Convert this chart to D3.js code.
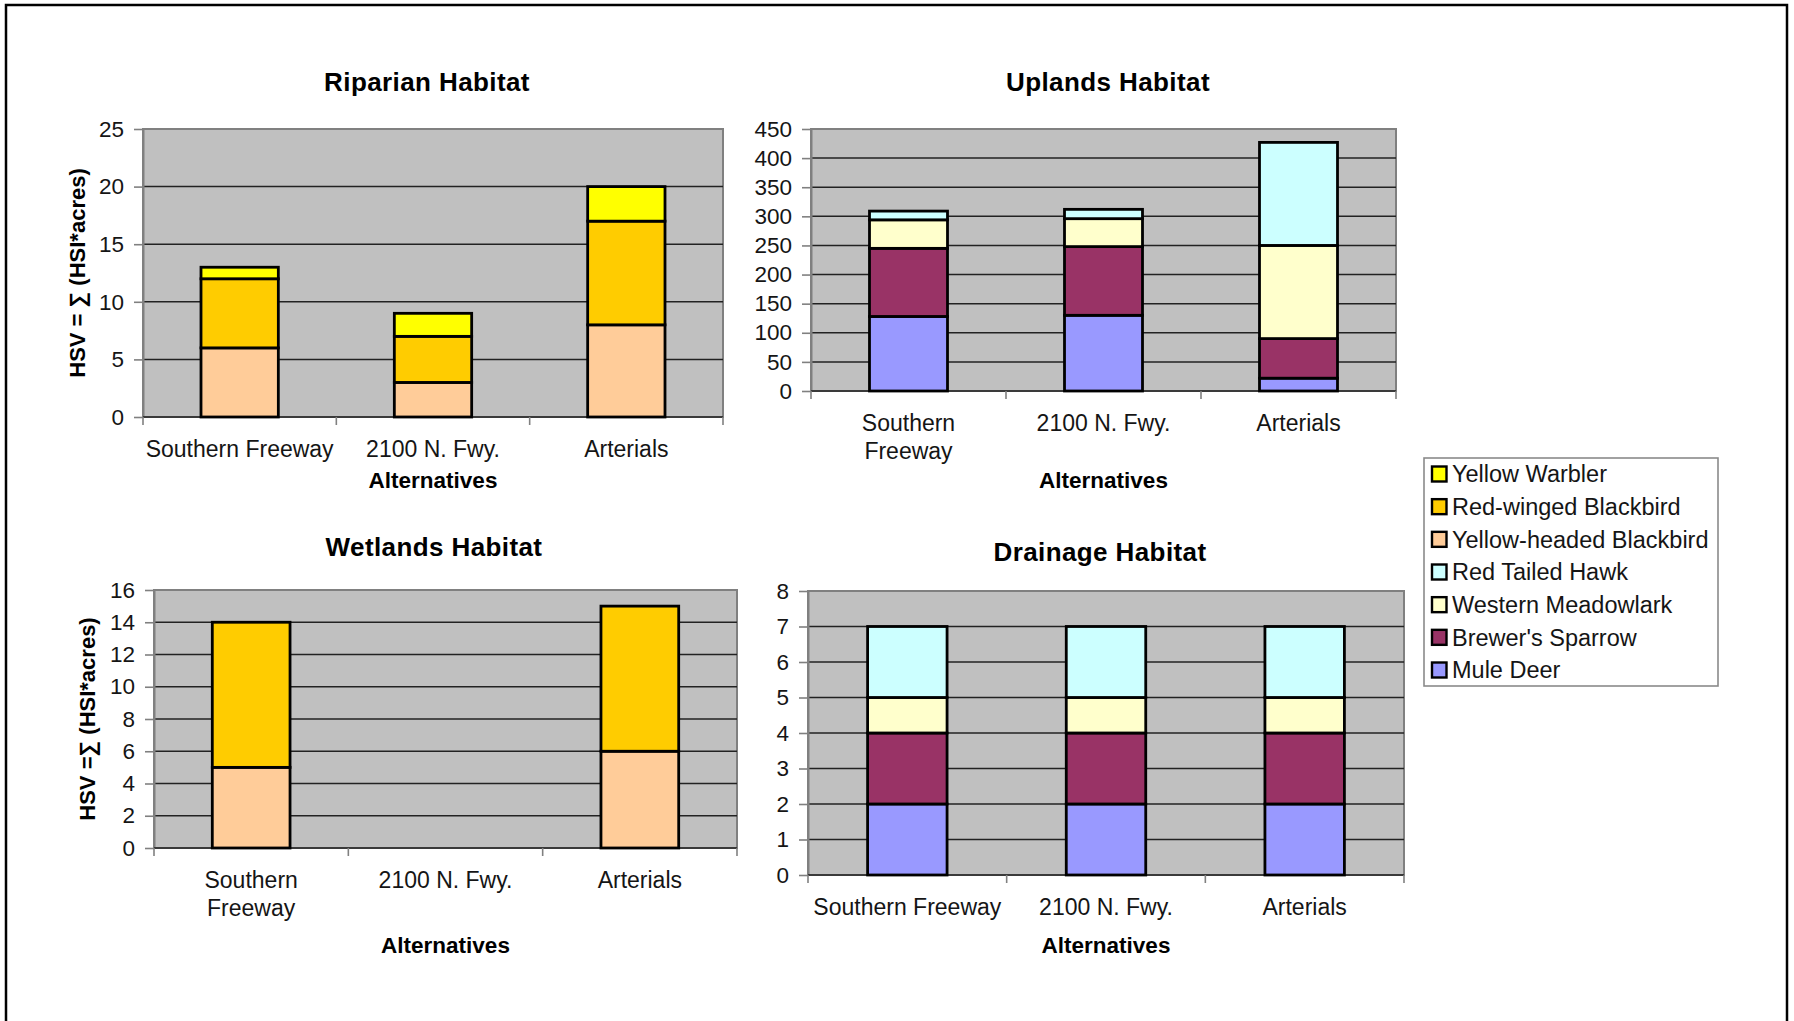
<!DOCTYPE html>
<html>
<head>
<meta charset="utf-8">
<script src="https://cdn.jsdelivr.net/npm/d3@7"></script>
<style>
  html, body { margin: 0; padding: 0; background: #fff; }
  svg { display: block; }
  text { font-family: "Liberation Sans", Arial, Helvetica, sans-serif; }
</style>
</head>
<body>
<svg id="fig" width="1794" height="1021"></svg>
<script>
// ---- data ----
const alternatives = ["Southern Freeway", "2100 N. Fwy.", "Arterials"];

const species = [
  "Yellow Warbler", "Red-winged Blackbird", "Yellow-headed Blackbird",
  "Red Tailed Hawk", "Western Meadowlark", "Brewer's Sparrow", "Mule Deer"
];
const speciesColors = ["#FFFF00", "#FFCC00", "#FFCC99", "#CCFFFF", "#FFFFCC", "#993366", "#9999FF"];

// Riparian habitat, HSV by alternative
const riparianYellowHeaded = [6, 3, 8];
const riparianRedWinged    = [6, 4, 9];
const riparianYellowWarbler = [1, 2, 3];

// Uplands habitat
const uplandsMuleDeer   = [128, 130, 22];
const uplandsBrewers    = [117, 118, 68];
const uplandsMeadowlark = [49, 48, 160];
const uplandsHawk       = [15, 16, 177];

// Wetlands habitat (no wetland value for 2100 N. Fwy.)
const wetlandsYellowHeaded = [5, 0, 6];
const wetlandsRedWinged    = [9, 0, 9];

// Drainage habitat
const drainageMuleDeer   = [2, 2, 2];
const drainageBrewers    = [2, 2, 2];
const drainageMeadowlark = [1, 1, 1];
const drainageHawk       = [2, 2, 2];

// axis tick values
const riparianTicks = [0, 5, 10, 15, 20, 25];
const uplandsTicks  = [0, 50, 100, 150, 200, 250, 300, 350, 400, 450];
const wetlandsTicks = [0, 2, 4, 6, 8, 10, 12, 14, 16];
const drainageTicks = [0, 1, 2, 3, 4, 5, 6, 7, 8];

const xTitle = "Alternatives";

// ---- panels (stack order bottom to top) ----
const panels = [
  {
    title: "Riparian Habitat", ticks: riparianTicks, yTitle: "HSV = \u2211 (HSI*acres)",
    layers: [["Yellow-headed Blackbird", riparianYellowHeaded], ["Red-winged Blackbird", riparianRedWinged], ["Yellow Warbler", riparianYellowWarbler]],
    box: { l: 143, r: 723, t: 129, b: 417 }, titleX: 427, titleY: 82, yTitleX: 77, wrapWidth: Infinity, xTitleY: 480, labelY: 449
  },
  {
    title: "Uplands Habitat", ticks: uplandsTicks, yTitle: null,
    layers: [["Mule Deer", uplandsMuleDeer], ["Brewer's Sparrow", uplandsBrewers], ["Western Meadowlark", uplandsMeadowlark], ["Red Tailed Hawk", uplandsHawk]],
    box: { l: 811, r: 1396, t: 129, b: 391 }, titleX: 1108, titleY: 82, wrapWidth: 150, xTitleY: 480, labelY: 423
  },
  {
    title: "Wetlands Habitat", ticks: wetlandsTicks, yTitle: "HSV =\u2211 (HSI*acres)",
    layers: [["Yellow-headed Blackbird", wetlandsYellowHeaded], ["Red-winged Blackbird", wetlandsRedWinged]],
    box: { l: 154, r: 737, t: 590, b: 848 }, titleX: 434, titleY: 547, yTitleX: 87, wrapWidth: 150, xTitleY: 945, labelY: 880
  },
  {
    title: "Drainage Habitat", ticks: drainageTicks, yTitle: null,
    layers: [["Mule Deer", drainageMuleDeer], ["Brewer's Sparrow", drainageBrewers], ["Western Meadowlark", drainageMeadowlark], ["Red Tailed Hawk", drainageHawk]],
    box: { l: 808, r: 1404, t: 591, b: 875 }, titleX: 1100, titleY: 552, wrapWidth: Infinity, xTitleY: 945, labelY: 907
  }
];

const color = d3.scaleOrdinal().domain(species).range(speciesColors);

const svg = d3.select("#fig");

// page frame
svg.append("rect")
  .attr("x", 6).attr("y", 5).attr("width", 1781).attr("height", 1040)
  .attr("fill", "none").attr("stroke", "#000").attr("stroke-width", 2.5);

const TEXT = "#151515";
const FS = 22.5;
const LABEL_FS = 23;

panels.forEach(p => {
  const g = svg.append("g");
  const { l, r, t, b } = p.box;
  const yMax = p.ticks[p.ticks.length - 1];

  const x = d3.scaleBand().domain(alternatives).range([l, r]).paddingInner(0.6).paddingOuter(0.3);
  const y = d3.scaleLinear().domain([0, yMax]).range([b, t]);

  // plot area
  g.append("rect").attr("x", l).attr("y", t).attr("width", r - l).attr("height", b - t)
    .attr("fill", "#C0C0C0").attr("stroke", "#808080").attr("stroke-width", 2);

  // gridlines
  g.append("g").selectAll("line").data(p.ticks.filter(v => v > 0 && v < yMax)).join("line")
    .attr("x1", l).attr("x2", r)
    .attr("y1", d => y(d)).attr("y2", d => y(d))
    .attr("stroke", "#222").attr("stroke-width", 1.5);

  // y axis
  const yAxis = d3.axisLeft(y).tickValues(p.ticks).tickSize(9).tickSizeOuter(0).tickPadding(10);
  const ya = g.append("g").attr("transform", `translate(${l},0)`).call(yAxis);
  ya.select(".domain").attr("stroke", "#808080").attr("stroke-width", 2);
  ya.selectAll(".tick line").attr("stroke", "#808080").attr("stroke-width", 1.6);
  ya.selectAll(".tick text").attr("fill", TEXT).style("font-size", FS + "px")
    .style("font-family", '"Liberation Sans", Arial, sans-serif');

  // category axis line + boundary ticks
  g.append("line").attr("x1", l).attr("x2", r).attr("y1", b).attr("y2", b)
    .attr("stroke", "#3a3a3a").attr("stroke-width", 2);
  const step = x.step();
  g.append("g").selectAll("line").data(d3.range(alternatives.length + 1)).join("line")
    .attr("x1", i => l + i * step).attr("x2", i => l + i * step)
    .attr("y1", b).attr("y2", b + 8)
    .attr("stroke", "#808080").attr("stroke-width", 1.6);

  // stacked bars
  const keys = p.layers.map(d => d[0]);
  const rows = alternatives.map((a, i) => {
    const o = { alt: a };
    p.layers.forEach(([k, vals]) => { o[k] = vals[i]; });
    return o;
  });
  const stacked = d3.stack().keys(keys)(rows);
  g.append("g").selectAll("g").data(stacked).join("g")
    .attr("fill", s => color(s.key))
    .selectAll("rect").data(s => s.filter(d => d[1] - d[0] > 0)).join("rect")
    .attr("x", d => x(d.data.alt))
    .attr("width", x.bandwidth())
    .attr("y", d => y(d[1]))
    .attr("height", d => y(d[0]) - y(d[1]))
    .attr("stroke", "#000").attr("stroke-width", 2.8);

  // category labels (wrapped where the band is too narrow)
  const lab = g.append("g").selectAll("text").data(alternatives).join("text")
    .attr("x", d => x(d) + x.bandwidth() / 2)
    .attr("y", p.labelY)
    .attr("dy", "0.35em")
    .attr("text-anchor", "middle")
    .attr("fill", TEXT)
    .style("font-size", LABEL_FS + "px")
    .text(d => d);
  lab.each(function (d) {
    const el = d3.select(this);
    if (this.getComputedTextLength() <= p.wrapWidth) return;
    const words = d.split(" ");
    const cx = +el.attr("x");
    el.text(null);
    let line = [];
    let ts = el.append("tspan").attr("x", cx).attr("dy", "0.35em");
    words.forEach(w => {
      line.push(w);
      ts.text(line.join(" "));
      if (ts.node().getComputedTextLength() > p.wrapWidth && line.length > 1) {
        line.pop();
        ts.text(line.join(" "));
        line = [w];
        ts = el.append("tspan").attr("x", cx).attr("dy", "1.22em").text(w);
      }
    });
  });

  // titles
  g.append("text").attr("x", p.titleX).attr("y", p.titleY).attr("dy", "0.35em")
    .attr("text-anchor", "middle").attr("fill", "#000")
    .style("font-size", "26px").style("font-weight", "bold").style("letter-spacing", "0.4px")
    .text(p.title);

  g.append("text").attr("x", (l + r) / 2).attr("y", p.xTitleY).attr("dy", "0.35em")
    .attr("text-anchor", "middle").attr("fill", "#000")
    .style("font-size", "22.5px").style("font-weight", "bold")
    .text(xTitle);

  if (p.yTitle) {
    const cy = (t + b) / 2;
    g.append("text")
      .attr("transform", `translate(${p.yTitleX},${cy}) rotate(-90)`)
      .attr("dy", "0.35em")
      .attr("text-anchor", "middle").attr("fill", "#000")
      .style("font-size", "22px").style("font-weight", "bold")
      .text(p.yTitle);
  }
});

// legend
const lg = svg.append("g");
const lgBox = { x: 1424, y: 458, w: 294, h: 228 };
lg.append("rect").attr("x", lgBox.x).attr("y", lgBox.y).attr("width", lgBox.w).attr("height", lgBox.h)
  .attr("fill", "#fff").attr("stroke", "#8a8a8a").attr("stroke-width", 1.6);
const rowY = d3.scalePoint().domain(species).range([474, 670]);
const item = lg.selectAll("g.item").data(species).join("g").attr("class", "item")
  .attr("transform", d => `translate(0,${rowY(d)})`);
item.append("rect").attr("x", 1432).attr("y", -7.5).attr("width", 14.5).attr("height", 15)
  .attr("fill", d => color(d)).attr("stroke", "#000").attr("stroke-width", 2.4);
item.append("text").attr("x", 1452).attr("y", 0).attr("dy", "0.35em")
  .attr("fill", TEXT).style("font-size", "23.5px").text(d => d);
</script>
</body>
</html>
